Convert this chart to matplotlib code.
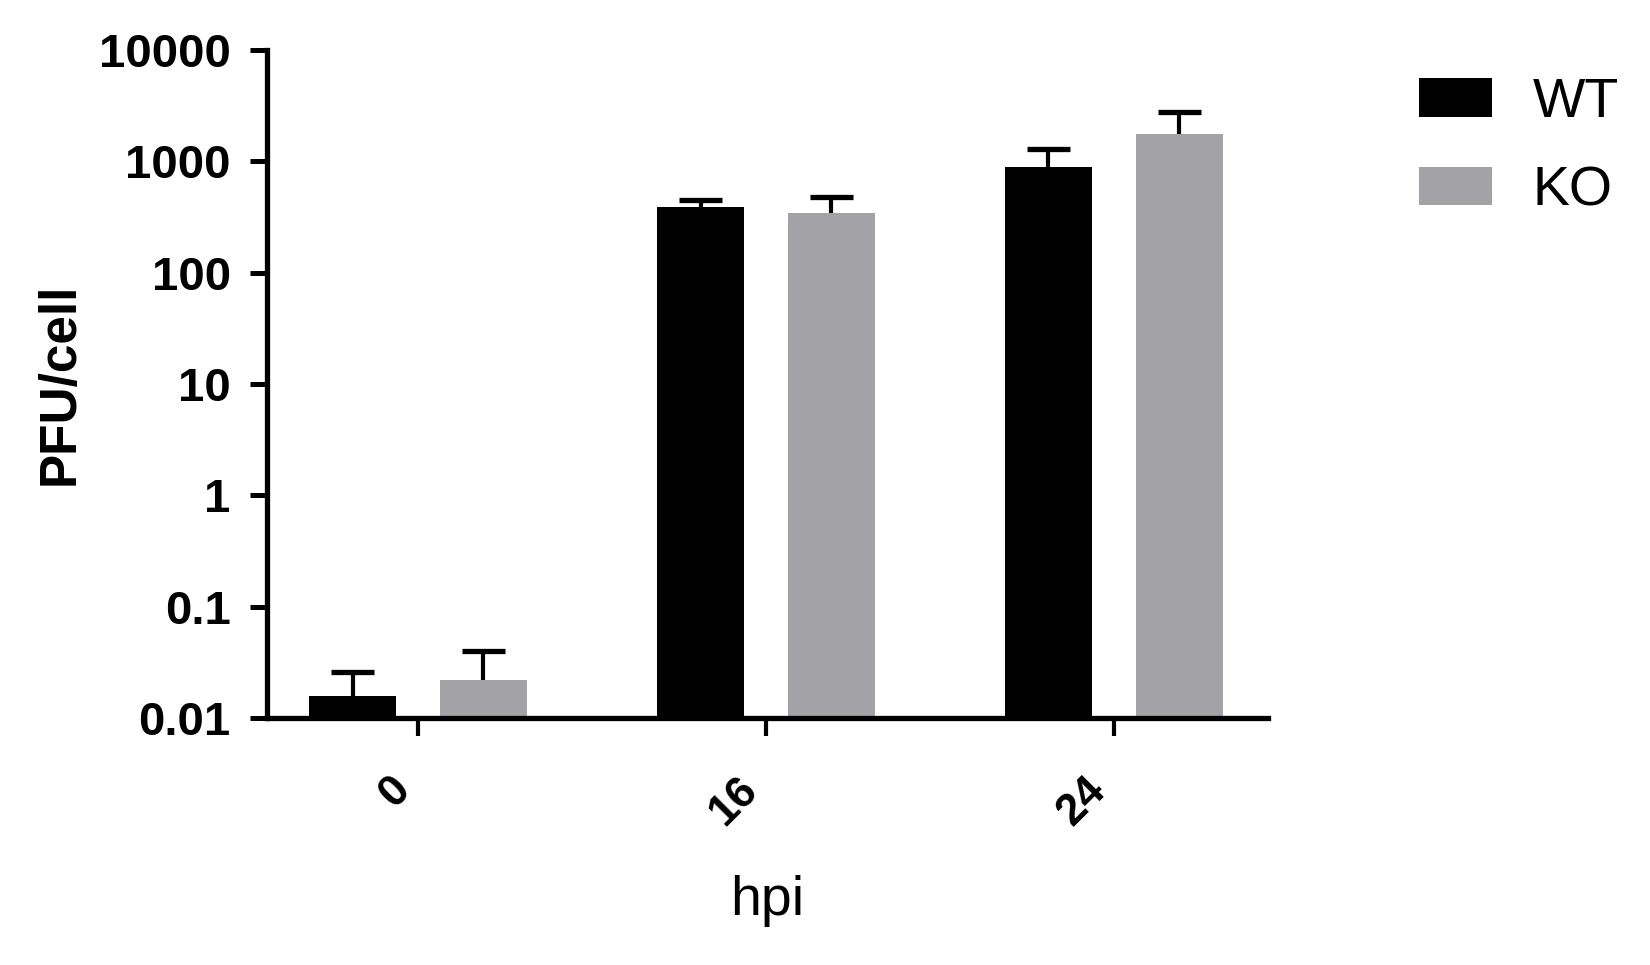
import matplotlib
matplotlib.use("Agg")
import matplotlib.pyplot as plt
import numpy as np

plt.rcParams['font.family'] = ['Liberation Sans', 'DejaVu Sans']

# data
hpi = ["0", "16", "24"]
wt_mean = [0.0158, 390, 893]
wt_top = [0.0259, 451, 1295]
ko_mean = [0.022, 345, 1767]
ko_top = [0.040, 480, 2786]

wt_color = "#000000"
ko_color = "#A3A2A7"

fig = plt.figure(figsize=(16.5, 9.65), dpi=100)
ax = fig.add_axes([0.1618, 0.256, 0.6067, 0.692])

x = np.arange(len(hpi))
w = 0.25
off = 0.188
capw = 0.062

ax.bar(x - off, wt_mean, width=w, color=wt_color, label="WT", zorder=2)
ax.bar(x + off, ko_mean, width=w, color=ko_color, label="KO", zorder=2)

# one-sided error bars (upper only)
for xs, m, t in [(x - off, wt_mean, wt_top), (x + off, ko_mean, ko_top)]:
    ax.vlines(xs, m, t, color="black", lw=3, zorder=3)
    ax.hlines(t, xs - capw, xs + capw, color="black", lw=3.8, zorder=3)

ax.set_yscale("log")
ax.set_ylim(0.01, 10000)
ax.set_xlim(-0.434, 2.443)
ax.set_yticks([0.01, 0.1, 1, 10, 100, 1000, 10000])
ax.set_yticklabels(["0.01", "0.1", "1", "10", "100", "1000", "10000"])
ax.yaxis.set_minor_locator(matplotlib.ticker.NullLocator())
ax.set_xticks(x)
ax.set_xticklabels(hpi, rotation=45, ha="right")

for s in ["top", "right"]:
    ax.spines[s].set_visible(False)
for s in ["left", "bottom"]:
    ax.spines[s].set_linewidth(3.8)

ax.tick_params(axis="y", length=12, width=3.6, pad=14, labelsize=34)
ax.tick_params(axis="x", length=13, width=3, pad=24, labelsize=32)
for lab in ax.get_yticklabels() + ax.get_xticklabels():
    lab.set_fontweight("bold")

ax.set_ylabel("PFU/cell", fontsize=37, fontweight="bold", labelpad=10)
ax.set_xlabel("hpi", fontsize=40, labelpad=30)

leg = ax.legend(loc="upper left", bbox_to_anchor=(1419 / 1650, 1 - 77 / 965),
                bbox_transform=fig.transFigure, frameon=False, fontsize=40,
                handlelength=1.31, handleheight=0.68, handletextpad=0.74,
                labelspacing=0.66, borderpad=0, borderaxespad=0)

fig.savefig("out.png", dpi=100)
